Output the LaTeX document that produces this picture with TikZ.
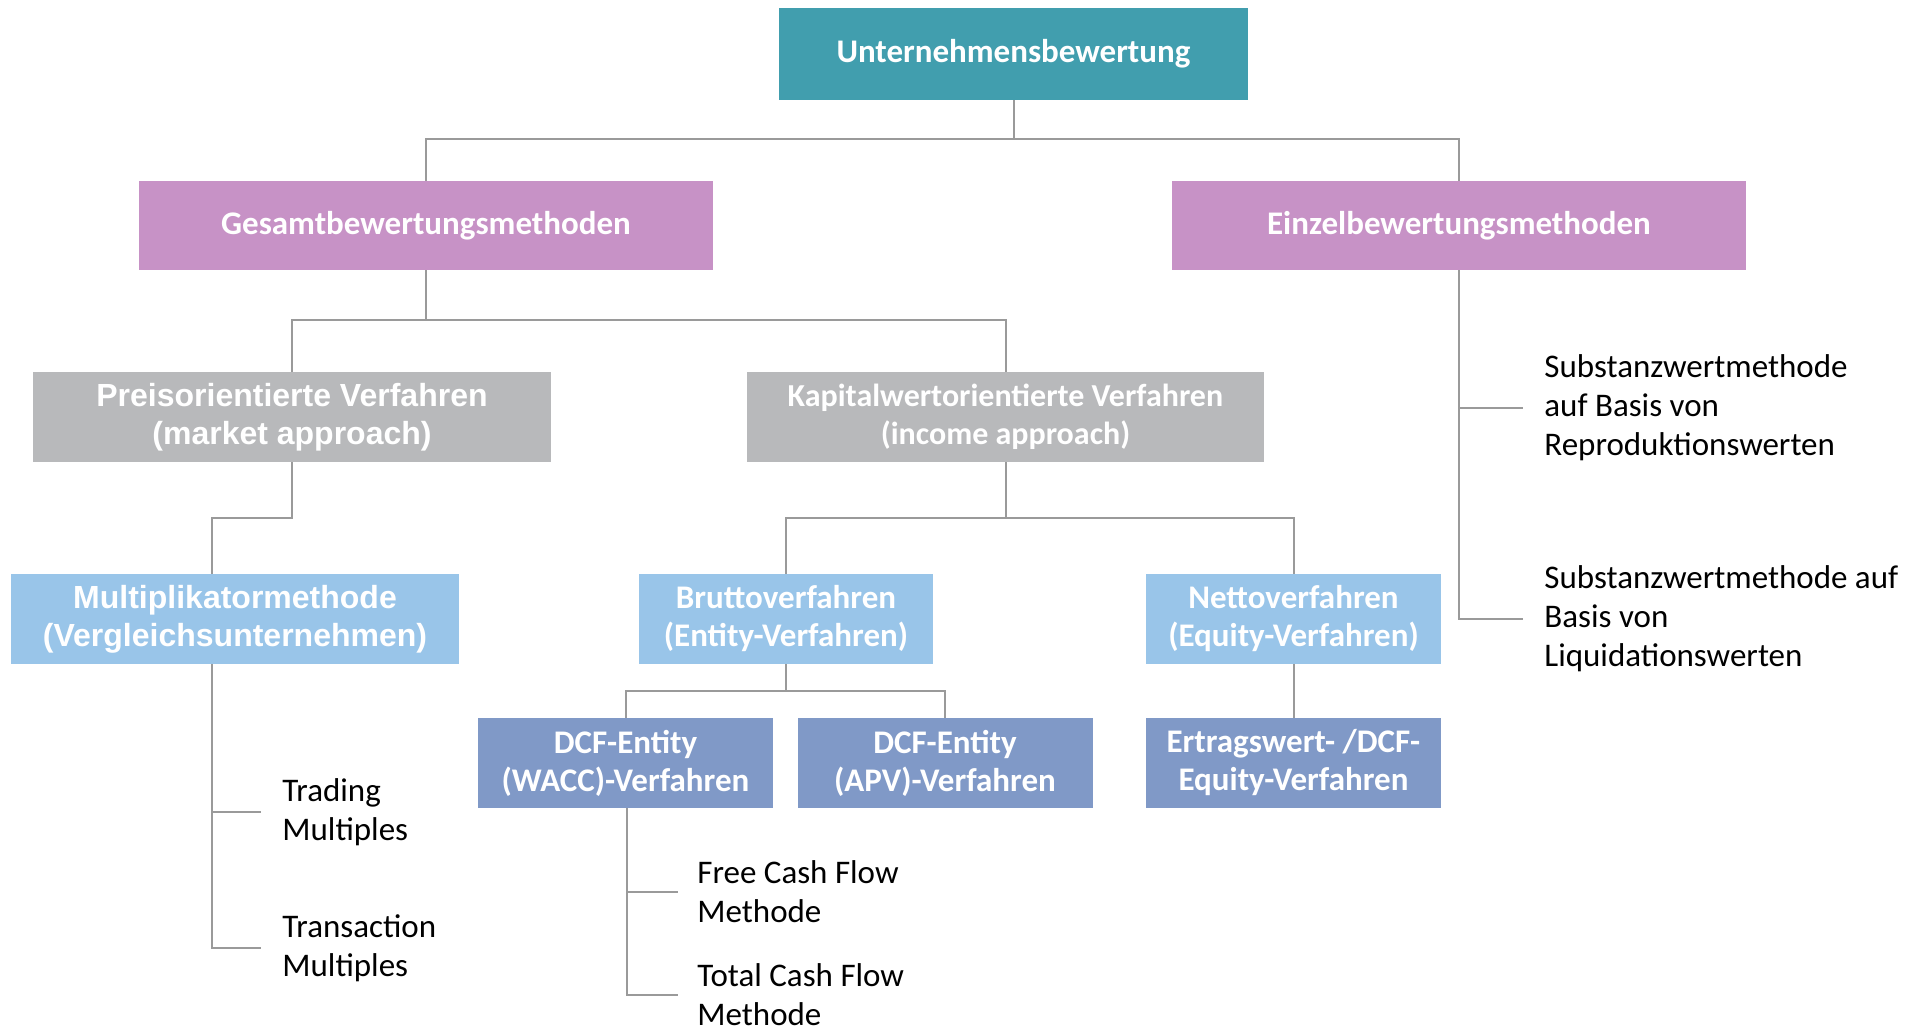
\documentclass[tikz,border=0pt]{standalone}
\usepackage{fontspec}
\setmainfont{Carlito}
\newfontfamily\arialfont{Liberation Sans}
\usetikzlibrary{positioning}

\definecolor{rootcol}{HTML}{419EAE}
\definecolor{methcol}{HTML}{C792C6}
\definecolor{apprcol}{HTML}{B8B9BB}
\definecolor{proccol}{HTML}{99C5E9}
\definecolor{dcfcol}{HTML}{8099C7}
\definecolor{linecol}{HTML}{9A9A9A}

\newcommand{\boxsiz}{\fontsize{16.5}{19}\selectfont\bfseries}
\newcommand{\leafsiz}{\fontsize{16.5}{19.5}\selectfont}

\tikzset{
    box/.style={rectangle, text=white, align=center, inner sep=0pt,
        minimum height=45pt, font=\boxsiz},
    leaf/.style={anchor=west, align=left, inner sep=0pt, font=\leafsiz},
    conn/.style={draw=linecol, line width=1pt},
}

\begin{document}
\begin{tikzpicture}[x=0.5pt, y=-0.5pt]
    \useasboundingbox (0,0) rectangle (1915,1028);

    % boxes
    \node[box, fill=rootcol, minimum width=234.5pt, minimum height=46pt] (root) at (1013.5,54) {Unternehmensbewertung};

    \node[box, fill=methcol, minimum width=287pt, minimum height=44.5pt] (gesamt) at (426,225.5) {Gesamtbewertungsmethoden};
    \node[box, fill=methcol, minimum width=287pt, minimum height=44.5pt] (einzel) at (1459,225.5) {Einzelbewertungsmethoden};

    \node[box, fill=apprcol, minimum width=259pt, font=\fontsize{16}{19}\selectfont\arialfont\bfseries] (preis) at (292,417) {Preisorientierte Verfahren\\(market approach)};
    \node[box, fill=apprcol, minimum width=258.5pt, font=\fontsize{16}{19}\selectfont\bfseries] (kapital) at (1005.5,417) {Kapitalwertorientierte Verfahren\\(income approach)};

    \node[box, fill=proccol, minimum width=224pt, font=\fontsize{16}{19}\selectfont\arialfont\bfseries] (multi) at (235,619) {Multiplikatormethode\\(Vergleichsunternehmen)};
    \node[box, fill=proccol, minimum width=147pt] (brutto) at (786,619) {Bruttoverfahren\\(Entity-Verfahren)};
    \node[box, fill=proccol, minimum width=147.5pt] (netto) at (1293.5,619) {Nettoverfahren\\(Equity-Verfahren)};

    \node[box, fill=dcfcol, minimum width=147.5pt] (wacc) at (625.5,763) {DCF-Entity\\(WACC)-Verfahren};
    \node[box, fill=dcfcol, minimum width=147.5pt] (apv) at (945,763) {DCF-Entity\\(APV)-Verfahren};
    \node[box, fill=dcfcol, minimum width=147.5pt] (ertrag) at (1293.5,763) {Ertragswert- /DCF-\\Equity-Verfahren};

    % leaves
    \node[leaf] (trade) at (282,812) {Trading\\Multiples};
    \node[leaf] (trans) at (282,948) {Transaction\\Multiples};
    \node[leaf] (fcf) at (697,892) {Free Cash Flow\\Methode};
    \node[leaf] (tcf) at (697,995) {Total Cash Flow\\Methode};
    \node[leaf] (sub1) at (1544,408) {Substanzwertmethode\\auf Basis von\\Reproduktionswerten};
    \node[leaf] (sub2) at (1544,619) {Substanzwertmethode auf\\Basis von\\Liquidationswerten};

    % buses
    \coordinate (bus1) at (0,139);
    \coordinate (bus2) at (0,320);
    \coordinate (bus3) at (0,518);
    \coordinate (bus4) at (0,691);
    \coordinate (mx) at (212,0);
    \coordinate (wx) at (627,0);

    % connectors
    \draw[conn] (root.south) -- (root.south |- bus1);
    \draw[conn] (gesamt.north) -- (gesamt.north |- bus1) -- (einzel.north |- bus1) -- (einzel.north);

    \draw[conn] (gesamt.south) -- (gesamt.south |- bus2);
    \draw[conn] (preis.north) -- (preis.north |- bus2) -- (kapital.north |- bus2) -- (kapital.north);

    \draw[conn] (preis.south) -- (preis.south |- bus3) -- (mx |- bus3) -- (multi.north -| mx);

    \draw[conn] (kapital.south) -- (kapital.south |- bus3);
    \draw[conn] (brutto.north) -- (brutto.north |- bus3) -- (netto.north |- bus3) -- (netto.north);

    \draw[conn] (brutto.south) -- (brutto.south |- bus4);
    \draw[conn] (wacc.north) -- (wacc.north |- bus4) -- (apv.north |- bus4) -- (apv.north);

    \draw[conn] (netto.south) -- (ertrag.north);

    \draw[conn] (multi.south -| mx) |- ([xshift=-10.5pt]trans.west);
    \draw[conn] (mx |- trade.west) -- ([xshift=-10.5pt]trade.west);

    \draw[conn] (wacc.south -| wx) |- ([xshift=-9.5pt]tcf.west);
    \draw[conn] (wx |- fcf.west) -- ([xshift=-9.5pt]fcf.west);

    \draw[conn] (einzel.south) |- ([xshift=-10.5pt]sub2.west);
    \draw[conn] (einzel.south |- sub1.west) -- ([xshift=-10.5pt]sub1.west);

\end{tikzpicture}
\end{document}
